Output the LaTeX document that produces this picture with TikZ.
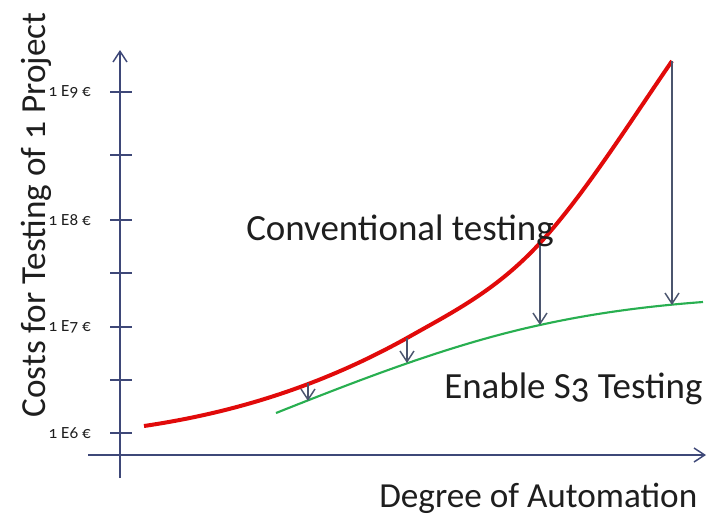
\documentclass[tikz,border=0pt]{standalone}
\usepackage{fontspec}
\setmainfont{Carlito}[Numbers=OldStyle]
\usetikzlibrary{arrows.meta}

\definecolor{axisblue}{RGB}{62,72,120}
\definecolor{arrowgrey}{RGB}{75,85,110}
\definecolor{costred}{RGB}{225,10,10}
\definecolor{s3green}{RGB}{40,175,80}
\definecolor{textgrey}{RGB}{30,30,30}

\tikzset{
    axisline/.style={draw=axisblue, line width=1.1pt},
    openhead/.style={-{Straight Barb[length=8pt,width=10.5pt]}},
    axistext/.style={text=textgrey, font=\fontsize{26.4}{30}\selectfont, inner sep=0pt},
    curvetext/.style={text=textgrey, font=\fontsize{27.7}{32}\selectfont, inner sep=0pt},
    ticktext/.style={text=textgrey, font=\fontsize{12.8}{15}\selectfont, inner sep=0pt}
}

\begin{document}
\begin{tikzpicture}[x=0.75pt,y=-0.75pt]
    \useasboundingbox (0,0) rectangle (710,515);

    \coordinate (Ybot) at (120,478);
    \coordinate (Ytop) at (120,50);
    \coordinate (Xleft) at (88,455);
    \coordinate (Xright) at (706,455);

    \draw [axisline, openhead] (Ybot) -- (Ytop);
    \draw [axisline, openhead] (Xleft) -- (Xright);

    \foreach \y in {92,155,220,273,327,380,433}
        \draw [axisline] (110,\y) -- (132,\y);

    \node [ticktext, anchor=east] (e9) at (91,92) {1 E9 €};
    \node [ticktext, anchor=east] (e8) at (91,220) {1 E8 €};
    \node [ticktext, anchor=east] (e7) at (91,327) {1 E7 €};
    \node [ticktext, anchor=east] (e6) at (91,433) {1 E6 €};

    % conventional costs
    \coordinate (R0) at (144,426);
    \coordinate (R2) at (308,383);
    \coordinate (R3) at (407,338);
    \coordinate (R5) at (540,243);
    \coordinate (R7) at (672,61);

    % with S3
    \coordinate (G0) at (276,413);
    \coordinate (G1) at (308,401);
    \coordinate (G2) at (407,363);
    \coordinate (G3) at (540,325);
    \coordinate (G5) at (672,305);
    \coordinate (G6) at (703,302);

    \draw [costred, line width=3pt] (R0) .. controls (232,413) and (319,387) .. (R3)
        .. controls (451,313) and (496,291) .. (R5)
        .. controls (584,195) and (628,125) .. (R7);
    \draw [s3green, line width=1.6pt] (G0) .. controls (364,378) and (452,344) .. (G3)
        .. controls (594,313) and (649,306) .. (G6);

    \draw [arrowgrey, line width=1.1pt, openhead] (R2) -- (G1);
    \draw [arrowgrey, line width=1.1pt, openhead] (R3) -- (G2);
    \draw [arrowgrey, line width=1.1pt, openhead] (R5) -- (G3);
    \draw [arrowgrey, line width=1.1pt, openhead] (R7) -- (G5);

    \node [curvetext, anchor=base west] (conv) at (246,240) {Conventional testing};
    \node [curvetext, anchor=base west] (enable) at (444,398) {Enable S3 Testing};
    \node [axistext, anchor=base west] (xlab) at (379,507) {Degree of Automation};
    \node [axistext, anchor=base, rotate=90] (ylab) at (45,215) {Costs for Testing of 1 Project};
\end{tikzpicture}
\end{document}
